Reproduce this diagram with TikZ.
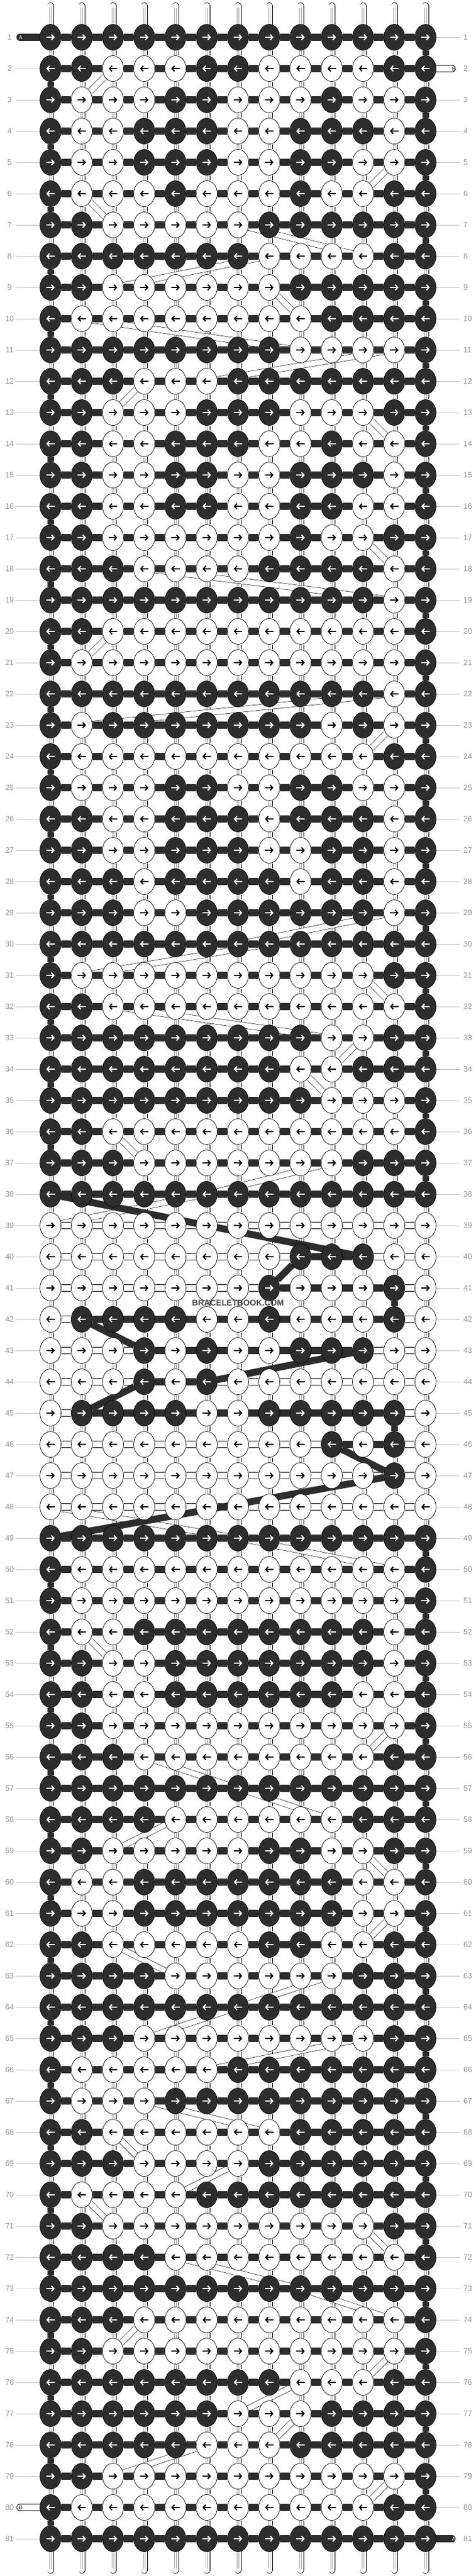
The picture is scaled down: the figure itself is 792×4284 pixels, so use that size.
\documentclass[tikz,border=0pt]{standalone}
\usepackage{fontspec}
\setmainfont{Liberation Sans}
\usetikzlibrary{shapes.geometric,arrows.meta}

\definecolor{knotdark}{RGB}{45,45,45}
\definecolor{labelgray}{RGB}{150,150,150}
\definecolor{linegray}{RGB}{195,195,195}
\definecolor{strgray}{RGB}{165,165,165}

\pgfdeclarelayer{background}
\pgfsetlayers{background,main}

% one row per line, 1 = dark knot, 0 = white knot
\newcommand\knotrows{%
{1,1,1,1,1,1,1,1,1,1,1,1,1},{1,1,0,0,0,1,1,0,0,0,0,1,1},%
{1,0,0,0,1,1,0,0,0,1,0,0,1},{1,0,0,1,1,1,0,0,1,1,1,0,1},%
{1,0,0,1,1,1,0,0,1,1,0,0,1},{1,0,0,0,1,0,0,0,1,0,0,1,1},%
{1,1,0,0,0,0,0,1,1,1,1,1,1},{1,1,1,1,1,1,1,0,0,0,0,1,1},%
{1,1,0,0,0,0,0,0,1,1,1,1,1},{1,0,0,0,0,0,0,0,0,1,1,1,1},%
{1,1,1,1,1,1,1,1,0,0,0,0,1},{1,1,1,0,0,0,1,1,1,1,1,1,1},%
{1,1,0,0,0,1,1,1,0,0,0,1,1},{1,1,0,0,1,1,1,0,0,1,0,0,1},%
{1,1,0,0,1,1,0,0,1,1,1,0,1},{1,1,0,0,1,1,0,0,1,1,0,0,1},%
{1,1,0,0,0,0,0,0,1,0,0,1,1},{1,1,1,0,0,0,0,1,1,1,1,0,1},%
{1,1,1,1,1,1,1,1,1,1,1,0,1},{1,1,0,0,0,0,0,0,0,0,0,0,1},%
{1,0,0,0,0,0,0,0,0,0,0,0,1},{1,1,1,1,1,1,1,1,1,1,1,0,1},%
{1,0,1,1,1,1,1,1,1,0,1,0,1},{1,0,0,0,0,0,0,0,0,0,0,1,1},%
{1,0,0,0,1,1,0,0,1,1,0,0,1},{1,1,0,0,1,1,1,0,1,1,1,0,1},%
{1,1,0,0,1,1,1,0,0,1,1,0,1},{1,1,1,0,1,1,1,1,0,1,1,0,1},%
{1,1,1,0,0,1,1,1,1,1,1,0,1},{1,1,1,1,1,1,1,1,1,1,1,1,1},%
{1,0,0,0,0,0,0,0,0,0,0,1,1},{1,1,0,0,0,0,0,0,0,0,0,0,1},%
{1,1,1,1,1,1,1,1,1,0,0,1,1},{1,1,1,1,1,1,1,1,0,0,1,1,1},%
{1,1,1,1,1,1,1,1,1,0,0,0,1},{1,1,0,0,0,0,0,0,0,0,0,0,1},%
{1,1,1,0,0,0,0,0,0,0,1,1,1},{1,1,1,1,1,1,1,1,1,1,1,1,1},%
{0,0,0,0,0,0,0,0,0,0,0,0,0},{0,0,0,0,0,0,0,0,1,1,1,0,0},%
{0,0,0,0,0,0,0,1,0,0,0,1,0},{0,1,1,1,1,0,0,1,0,0,0,1,0},%
{0,0,0,1,0,1,0,0,1,1,1,0,0},{0,0,0,1,0,1,0,0,0,0,0,0,0},%
{0,1,1,1,1,0,0,1,1,1,1,1,0},{0,0,0,0,0,0,0,0,0,1,0,1,0},%
{0,0,0,0,0,0,0,0,0,0,0,1,0},{0,0,0,0,0,0,0,0,0,0,0,0,0},%
{1,1,1,1,1,1,1,1,1,1,1,1,1},{1,0,0,0,0,0,0,0,0,0,0,0,1},%
{1,0,0,0,0,0,0,0,0,0,0,0,1},{1,0,0,1,1,1,1,1,1,1,1,0,1},%
{1,1,0,0,1,1,1,1,1,1,1,0,1},{1,1,0,0,1,1,1,1,1,1,0,0,1},%
{1,1,0,0,0,0,0,0,0,0,0,0,1},{1,1,1,0,0,0,0,0,0,0,0,1,1},%
{1,1,1,1,1,1,1,1,1,1,1,1,1},{1,1,1,1,0,0,0,0,0,0,1,1,1},%
{1,1,0,0,0,0,0,1,1,0,0,1,1},{1,0,0,1,1,1,1,1,1,1,0,0,1},%
{1,0,0,1,1,1,1,1,1,1,0,0,1},{1,1,0,0,0,0,0,1,1,0,0,1,1},%
{1,1,1,1,0,0,0,0,0,0,1,1,1},{1,1,1,1,1,1,1,1,1,1,1,1,1},%
{1,1,1,0,0,0,0,0,0,0,0,1,1},{1,0,0,0,0,0,1,1,1,1,1,1,1},%
{1,0,0,0,1,1,1,1,1,1,1,1,1},{1,1,0,0,0,0,0,0,1,1,1,1,1},%
{1,1,1,0,0,0,0,1,1,1,1,1,1},{1,0,0,0,0,1,1,1,1,1,1,1,1},%
{1,1,0,0,0,0,0,0,0,0,0,1,1},{1,1,1,1,0,0,0,0,0,0,0,0,1},%
{1,1,1,1,1,1,1,1,1,1,1,1,1},{1,1,1,0,0,0,0,0,0,0,0,0,1},%
{1,1,0,0,0,0,0,0,0,0,0,0,1},{1,1,1,1,1,1,1,1,0,0,0,1,1},%
{1,1,1,1,1,1,0,0,0,1,1,1,1},{1,1,1,1,1,0,0,0,1,1,1,1,1},%
{1,1,0,0,0,0,0,0,0,0,0,0,1},{1,0,0,0,0,0,0,0,0,0,0,1,1},%
{1,1,1,1,1,1,1,1,1,1,1,1,1}}

\begin{document}
\begin{tikzpicture}[x=1pt,y=-1pt,
    knot/.style={ellipse,draw=black,line width=0.7pt,minimum width=35pt,
                 minimum height=43pt,inner sep=0pt},
    arrw/.style={line width=2pt,-{Straight Barb[length=4pt,width=9pt]}},
    tube/.style={draw=black,line width=0.7pt,double=white,double distance=9.6pt},
    strands/.style={draw=strgray,line width=0.45pt,double=white,double distance=2.2pt},
    dbar/.style={draw=knotdark,line width=11.5pt},
    wbar/.style={draw=black,line width=0.7pt,double=white,double distance=10pt},
    diag/.style={draw=black,line width=0.6pt,double=white,double distance=9pt},
    turn/.style={draw=knotdark,line width=11pt},
    lab/.style={text=labelgray,font=\fontsize{13}{13}\selectfont,inner sep=0pt},
    tick/.style={draw=linegray,line width=0.7pt},
    tag/.style={font=\fontsize{9}{9}\selectfont,inner sep=0pt}]

  \useasboundingbox (0,0) rectangle (792,4284);
  \begin{pgfonlayer}{background}
    \fill[white] (0,0) rectangle (792,4284);
  \end{pgfonlayer}

  % knots, arrows and row numbers
  \foreach \pat [count=\r] in \knotrows {
    \pgfmathsetmacro\ky{62+52*(\r-1)}
    \foreach \v [count=\c] in \pat {
      \pgfmathsetmacro\kx{84+52*(\c-1)}
      \ifnum\v=1
        \node[knot,fill=knotdark] (k-\r-\c) at (\kx,\ky) {};
        \def\acol{white}
      \else
        \node[knot,fill=white] (k-\r-\c) at (\kx,\ky) {};
        \def\acol{black}
      \fi
      \ifodd\r
        \draw[arrw,\acol] ([xshift=-7pt]k-\r-\c.center) -- ([xshift=7pt]k-\r-\c.center);
      \else
        \draw[arrw,\acol] ([xshift=7pt]k-\r-\c.center) -- ([xshift=-7pt]k-\r-\c.center);
      \fi
    }
    \node[lab,minimum width=20pt] (ll-\r) at (16,\ky) {\r};
    \node[lab,anchor=west] (rl-\r) at (771,\ky) {\r};
    \ifnum\r=1 \else \ifnum\r=80 \else
      \draw[tick] (ll-\r.east) -- (k-\r-1.west);
    \fi\fi
    \ifnum\r=2 \else \ifnum\r=81 \else
      \draw[tick] (k-\r-13.east) -- ([xshift=-6pt]rl-\r.west);
    \fi\fi
  }

  \node[font=\bfseries\fontsize{13.8}{14}\selectfont,text=black!72] (brand)
    at (396,2167) {BRACELETBOOK.COM};

  \begin{pgfonlayer}{background}
    % strings above and below
    \foreach \c in {1,...,13} {
      \coordinate (top-\c) at ({84+52*(\c-1)},9.5);
      \coordinate (bot-\c) at ({84+52*(\c-1)},4274.5);
      \draw[tube,line cap=round] (top-\c) -- (k-1-\c);
      \draw[strands,shorten <=3pt] (top-\c) -- (k-1-\c);
      \draw[tube,line cap=round] (k-81-\c) -- (bot-\c);
      \draw[strands,shorten >=3pt] (k-81-\c) -- (bot-\c);
    }
    % strings between rows
    \foreach \r in {1,...,80} {
      \pgfmathtruncatemacro\rr{\r+1}
      \foreach \c in {1,...,13} {
        \draw[tube] (k-\r-\c) -- (k-\rr-\c);
        \draw[strands] (k-\r-\c) -- (k-\rr-\c);
      }
    }
    % strings that move sideways
    \foreach \r/\a/\b in {2/3/2,5/12/11,6/2/3,7/7/11,8/8/3,9/8/9,10/2/9,
        11/12/6,12/4/3,13/11/12,17/11/12,18/4/12,20/3/2,22/12/2,23/12/11,
        29/12/7,30/8/2,31/11/12,32/3/10,33/11/10,34/9/10,36/3/4,37/10/6,
        38/6/1,48/1/7,49/7/12,52/2/3,55/12/11,56/4/7,57/7/10,58/5/3,
        59/11/12,61/12/11,62/3/5,63/10/7,64/7/4,65/11/6,67/4/8,68/3/4,
        69/7/5,70/2/3,71/11/12,72/5/9,73/9/12,74/4/3,75/12/11,76/9/7,
        77/9/8,78/6/3,79/12/11} {
      \pgfmathtruncatemacro\rr{\r+1}
      \draw[diag] (k-\r-\a) -- (k-\rr-\b);
    }
    % working thread across each row
    \foreach \r in {1,...,81} {
      \foreach \c in {1,...,12} {
        \pgfmathtruncatemacro\d{\c+1}
        \ifnum\r<39
          \draw[dbar] (k-\r-\c) -- (k-\r-\d);
        \else\ifnum\r>48
          \draw[dbar] (k-\r-\c) -- (k-\r-\d);
        \else
          \draw[wbar] (k-\r-\c) -- (k-\r-\d);
        \fi\fi
      }
    }
    \foreach \r/\a/\b in {40/9/11,41/8/12,42/2/12,43/4/11,44/4/6,45/2/12,46/10/12}
      \draw[dbar] (k-\r-\a) -- (k-\r-\b);
    % turns at the edges
    \foreach \r in {1,...,80} {
      \pgfmathtruncatemacro\rr{\r+1}
      \pgfmathtruncatemacro\inside{(\r>37)*(\r<49)}
      \ifnum\inside=0
        \ifodd\r
          \draw[turn] (k-\r-13) -- (k-\rr-13);
        \else
          \draw[turn] (k-\r-1) -- (k-\rr-1);
        \fi
      \fi
    }
    \draw[turn] (k-41-12) -- (k-42-12);
    \draw[turn] (k-45-12) -- (k-46-12);
    % thread jumping through the middle
    \draw[dbar] (k-38-1) -- (k-40-11);
    \draw[dbar] (k-40-9) -- (k-41-8);
    \draw[dbar] (k-42-2) -- (k-43-4);
    \draw[dbar] (k-43-11) -- (k-44-6);
    \draw[dbar] (k-44-4) -- (k-45-2);
    \draw[dbar] (k-46-10) -- (k-47-12);
    \draw[dbar] (k-47-12) -- (k-49-1);
    % loose ends
    \coordinate (endA1) at (33,62);
    \coordinate (endB1) at (752.5,114);
    \coordinate (endB2) at (33,4170);
    \coordinate (endA2) at (752.5,4222);
    \draw[dbar,line cap=round] (endA1) -- (k-1-1);
    \draw[wbar,line cap=round] (k-2-13) -- (endB1);
    \draw[wbar,line cap=round] (endB2) -- (k-80-1);
    \draw[dbar,line cap=round] (k-81-13) -- (endA2);
  \end{pgfonlayer}

  \node[tag,text=white] (tagA1) at (34.5,62) {A};
  \node[tag] (tagB1) at (755,114) {B};
  \node[tag] (tagB2) at (34.5,4170) {B};
  \node[tag,text=white] (tagA2) at (755,4222) {A};
\end{tikzpicture}
\end{document}
